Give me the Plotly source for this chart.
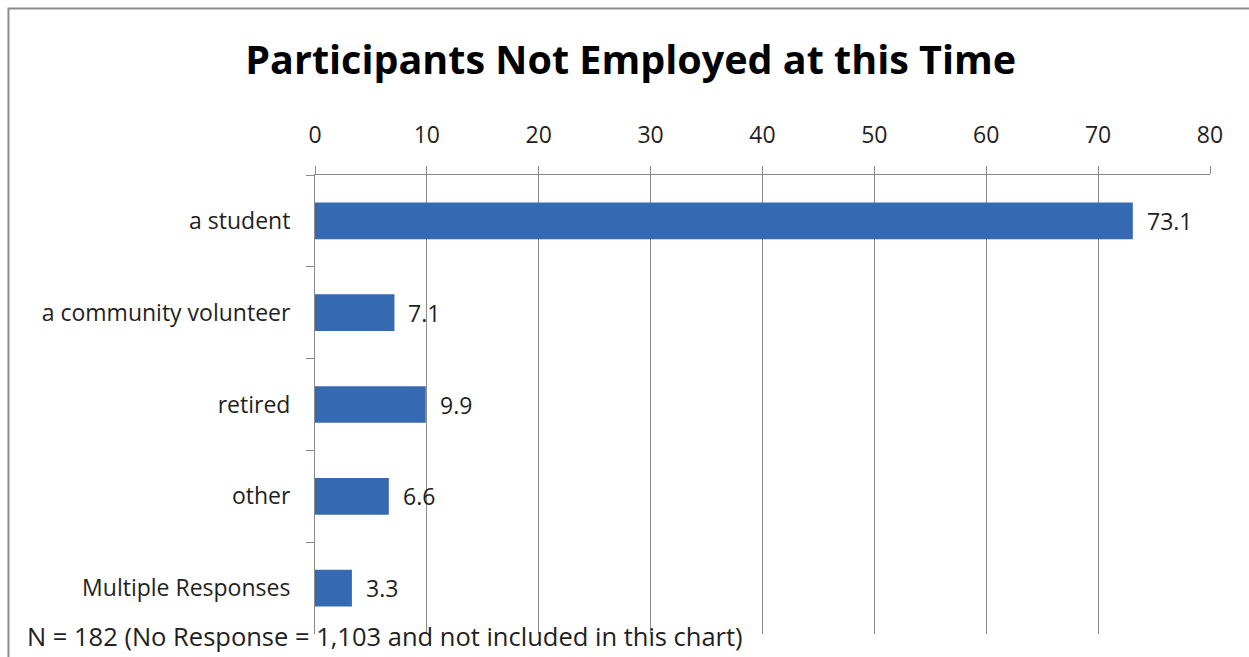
import plotly.graph_objects as go

# Survey results: share of participants not employed, by status (%)
categories = ["a student", "a community volunteer", "retired", "other", "Multiple Responses"]
percentages = [73.1, 7.1, 9.9, 6.6, 3.3]
x_ticks = [0, 10, 20, 30, 40, 50, 60, 70, 80]

FONT = "Open Sans, sans-serif"
GRID = "#8a8a8a"
TEXT = "#1f1f1f"

fig = go.Figure()

fig.add_trace(go.Bar(
    x=percentages,
    y=categories,
    orientation="h",
    marker=dict(color="#356ab3", line=dict(width=0)),
    width=0.4,
    hoverinfo="x+y",
))

# value labels to the right of each bar
for cat, val in zip(categories, percentages):
    fig.add_annotation(
        x=val, y=cat, xref="x", yref="y",
        text=f"{val:.1f}", showarrow=False,
        xanchor="left", xshift=12,
        font=dict(family=FONT, size=23, color=TEXT),
    )

# footnote under the chart
fig.add_annotation(
    x=-0.324, y=-0.005, xref="paper", yref="paper",
    text="N = 182 (No Response = 1,103 and not included in this chart)",
    showarrow=False, xanchor="left", yanchor="middle",
    font=dict(family=FONT, size=25.5, color=TEXT),
)

# outer frame of the chart area
fig.add_shape(
    type="rect", xref="paper", yref="paper",
    x0=-0.3425, x1=1.2, y0=-0.2, y1=1.3627,
    line=dict(color="#8c8c8c", width=2), fillcolor="rgba(0,0,0,0)",
    layer="below",
)

fig.update_layout(
    width=1249, height=657,
    margin=dict(l=315, r=39, t=175, b=23),
    paper_bgcolor="white", plot_bgcolor="white",
    showlegend=False,
    title=dict(
        text="<b>Participants Not Employed at this Time</b>",
        x=0.505, xanchor="center", y=0.908, yanchor="middle",
        font=dict(family=FONT, size=39.5, color="#000000"),
    ),
    xaxis=dict(
        side="top", range=[0, 80], tickvals=x_ticks,
        showgrid=True, gridcolor=GRID, gridwidth=1,
        showline=True, linecolor=GRID, linewidth=1,
        ticks="outside", ticklen=8, tickcolor=GRID,
        tickfont=dict(family=FONT, size=23, color=TEXT),
        ticklabelstandoff=14,
        zeroline=False, fixedrange=True,
    ),
    yaxis=dict(
        type="category", autorange="reversed",
        tickson="boundaries", ticks="outside", ticklen=8, tickcolor=GRID,
        showgrid=False, showline=True, linecolor=GRID, linewidth=1,
        tickfont=dict(family=FONT, size=23, color=TEXT),
        ticklabelstandoff=19,
        fixedrange=True,
    ),
)

fig.write_html("out.html")
